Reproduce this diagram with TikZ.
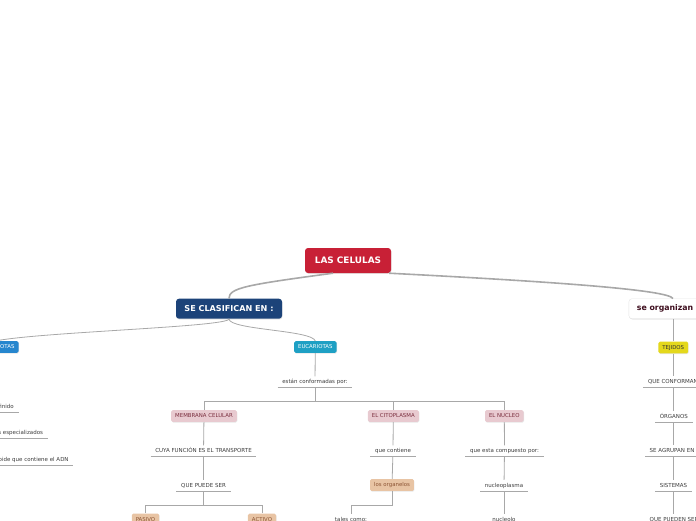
\documentclass[tikz,border=0pt]{standalone}
\usepackage{fontspec}
\setmainfont{DejaVu Sans}
\usetikzlibrary{positioning, calc, shadows}
\definecolor{celred}{RGB}{200, 32, 54}
\definecolor{clasblue}{RGB}{28, 67, 121}
\definecolor{procblue}{RGB}{38, 134, 206}
\definecolor{eucteal}{RGB}{30, 160, 196}
\definecolor{partpink}{RGB}{232, 202, 208}
\definecolor{partred}{RGB}{122, 46, 62}
\definecolor{orgtan}{RGB}{232, 196, 164}
\definecolor{orgbrown}{RGB}{140, 84, 52}
\definecolor{tejyellow}{RGB}{228, 216, 28}
\definecolor{orgmaroon}{RGB}{62, 14, 30}
\definecolor{labelgray}{RGB}{60, 60, 60}
\definecolor{linegray}{RGB}{168, 168, 168}

\tikzset{
    softshadow/.style={drop shadow={opacity=0.2, shadow xshift=0.5pt, shadow yshift=-0.8pt}},
    box/.style={rounded corners=1.5pt, inner xsep=4pt, minimum height=11pt,
                font=\fontsize{5.4}{6}\selectfont, text height=4pt, text depth=1pt, softshadow},
    kindbox/.style={box, fill=#1, text=white},
    partbox/.style={box, fill=partpink, text=partred},
    tanbox/.style={box, fill=orgtan, text=orgbrown},
    yellowbox/.style={box, fill=tejyellow, text=black!80},
    topic/.style={inner xsep=4.5pt, inner ysep=3pt, text=labelgray,
                  font=\fontsize{5.5}{6}\selectfont, text height=4pt, text depth=1pt},
    link/.style={draw=linegray, line width=0.8pt},
    branch/.style={draw=linegray, line width=1.6pt}
}

\begin{document}
\begin{tikzpicture}[x=1pt, y=-1pt]
    \useasboundingbox (0,0) rectangle (696,520);
    \clip (0,0) rectangle (696,520);

    % main nodes
    \node[fill=celred, text=white, rounded corners=3pt, minimum width=86pt, minimum height=25pt,
          font=\bfseries\fontsize{8.9}{10}\selectfont, softshadow] (celulas) at (348,260.5) {LAS CELULAS};
    \node[fill=clasblue, text=white, rounded corners=3pt, minimum width=106pt, minimum height=20pt,
          font=\bfseries\fontsize{8.1}{10}\selectfont, softshadow] (clasif) at (229,308.7) {SE CLASIFICAN EN :};
    \node[fill=white, draw=black!10, text=orgmaroon, rounded corners=3pt, anchor=west, inner xsep=8pt,
          minimum height=20pt, font=\bfseries\fontsize{7.8}{10}\selectfont, softshadow] (organizan) at (628.7,308.7) {se organizan};

    % clasificacion
    \node[kindbox=procblue, anchor=east] (procariotas) at (18.7,347) {PROCARIOTAS};
    \node[kindbox=eucteal] (eucariotas) at (315.3,347) {EUCARIOTAS};
    \node[topic, anchor=east] (definido) at (18.5,407) {finido};
    \node[topic, anchor=east] (especial) at (47.7,433) {s especializados};
    \node[topic, anchor=east] (nucleoide) at (73.3,459.5) {oide que contiene el ADN};
    \node[topic] (conformadas) at (315,382) {están conformadas por:};

    \node[partbox] (membrana) at (204,416) {MEMBRANA CELULAR};
    \node[partbox] (citoplasma) at (393.3,416) {EL CITOPLASMA};
    \node[partbox] (nucleo) at (504.3,416) {EL NUCLEO};

    \node[topic] (funcion) at (203.5,451) {CUYA FUNCIÓN ES EL TRANSPORTE};
    \node[topic] (puede) at (203.5,485.5) {QUE PUEDE SER};
    \node[tanbox] (pasivo) at (145.5,519.5) {PASIVO};
    \node[tanbox] (activo) at (262,519.5) {ACTIVO};

    \node[topic] (contiene) at (393,451) {que contiene};
    \node[tanbox] (organelos) at (392,485) {los organelos};
    \node[topic] (tales) at (351,519.5) {tales como:};

    \node[topic] (compuesto) at (504.5,451) {que esta compuesto por:};
    \node[topic] (nucleoplasma) at (504,485.5) {nucleoplasma};
    \node[topic] (nucleolo) at (504,519.5) {nucleolo};

    % organizacion
    \node[yellowbox] (tejidos) at (673.3,347.5) {TEJIDOS};
    \node[topic, anchor=west] (conforman) at (643.3,382) {QUE CONFORMAN};
    \node[topic] (organos) at (673.8,416.5) {ÓRGANOS};
    \node[topic, anchor=west] (agrupan) at (645,451) {SE AGRUPAN EN};
    \node[topic] (sistemas) at (673.5,485.5) {SISTEMAS};
    \node[topic, anchor=west] (pueden) at (645,519.5) {QUE PUEDEN SER};

    \foreach \n in {definido, especial, nucleoide, conformadas, funcion, puede, tales, contiene,
                    compuesto, nucleoplasma, nucleolo, conforman, organos, agrupan, sistemas, pueden}
        \draw[link] (\n.south west) -- (\n.south east);

    % connectors
    \draw[branch] ([xshift=-15pt]celulas.south) .. controls (245,285) and (229,288) .. (clasif.north);
    \draw[branch] ([xshift=-2pt]celulas.south east) .. controls (560,282) and (668,290) .. ([xshift=44.3pt]organizan.north west);
    \draw[link] (clasif.south) .. controls +(0,8) and (40,332) .. (procariotas.north);
    \draw[link] (clasif.south) .. controls +(0,11) and +(-3,-11) .. (eucariotas.north);
    \draw[link] (eucariotas) -- (conformadas);
    \foreach \p in {membrana, citoplasma, nucleo}
        \draw[link] (conformadas.south) -- ++(0,13.5) -| (\p.north);
    \draw[link] (membrana) -- (funcion);
    \draw[link] (funcion) -- (puede);
    \draw[link] (puede.south) -- ++(0,14) -| (pasivo.north);
    \draw[link] (puede.south) -- ++(0,14) -| (activo.north);
    \draw[link] (citoplasma) -- (contiene);
    \draw[link] (contiene) -- (organelos);
    \draw[link] (organelos.south) -- ++(0,14) -| (tales.north);
    \draw[link] (nucleo) -- (compuesto);
    \draw[link] (compuesto) -- (nucleoplasma);
    \draw[link] (nucleoplasma) -- (nucleolo);
    \draw[link] (organizan.south -| tejidos) -- (tejidos.north);
    \draw[link] (tejidos.south) -- (tejidos |- conforman.north);
    \draw[link] (conforman.south -| organos) -- (organos.north);
    \draw[link] (organos.south) -- (organos |- agrupan.north);
    \draw[link] (agrupan.south -| sistemas) -- (sistemas.north);
    \draw[link] (sistemas.south) -- (sistemas |- pueden.north);
\end{tikzpicture}
\end{document}
